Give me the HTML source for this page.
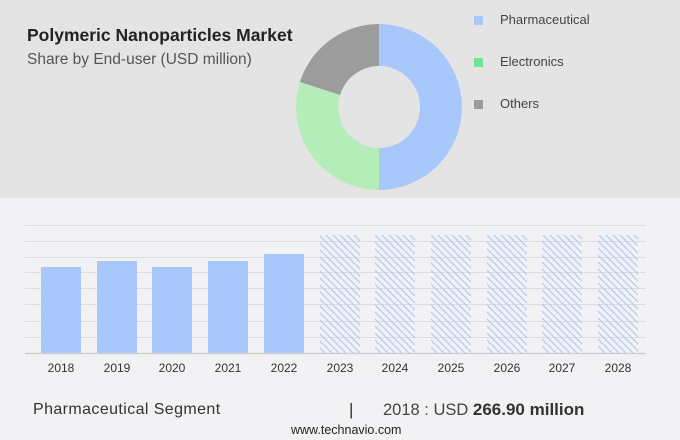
<!DOCTYPE html>
<html><head><style>
body{margin:0;width:680px;height:440px;background:#f2f2f4;font-family:"Liberation Sans",sans-serif;overflow:hidden;position:relative}
.t{position:absolute;white-space:nowrap}
</style></head><body>
<div style="position:absolute;left:0;top:0;width:680px;height:198px;background:#e4e4e4"></div>
<div class="t" style="left:27px;top:25px;font-size:17.5px;font-weight:bold;color:#222">Polymeric Nanoparticles Market</div>
<div class="t" style="left:27px;top:51px;font-size:15.5px;color:#555">Share by End-user (USD million)</div>
<svg width="680" height="440" style="position:absolute;left:0;top:0">
<defs><pattern id="h" width="7" height="7" patternUnits="userSpaceOnUse"><path d="M0 0L7 7M-3.5 3.5L3.5 10.5M3.5 -3.5L10.5 3.5" stroke="#a8c6f6" stroke-width="1.1"/></pattern></defs>
<path d="M379 24 A83 83 0 0 1 379 190 L379 148 A41 41 0 0 0 379 66Z" fill="#a8c8fc"/>
<path d="M379 190 A83 83 0 0 1 300 82 L340 95 A41 41 0 0 0 379 148Z" fill="#b5edb8"/>
<path d="M300 82 A83 83 0 0 1 379 24 L379 66 A41 41 0 0 0 340 95Z" fill="#9c9c9c"/>
<rect x="474" y="16" width="9" height="9" fill="#a8c8fc"/>
<rect x="474" y="58" width="9" height="9" fill="#6ee495"/>
<rect x="474" y="100" width="9" height="9" fill="#9c9c9c"/>
<g stroke="#dcdcdf" stroke-width="1">
<line x1="25" x2="646" y1="225.5" y2="225.5"/><line x1="25" x2="646" y1="241.5" y2="241.5"/><line x1="25" x2="646" y1="257.5" y2="257.5"/><line x1="25" x2="646" y1="272.5" y2="272.5"/><line x1="25" x2="646" y1="288.5" y2="288.5"/><line x1="25" x2="646" y1="304.5" y2="304.5"/><line x1="25" x2="646" y1="321.5" y2="321.5"/><line x1="25" x2="646" y1="337.5" y2="337.5"/>
</g>
<g fill="#a8c8fc">
<rect x="41" y="267" width="40" height="86"/><rect x="97" y="261" width="40" height="92"/><rect x="152" y="267" width="40" height="86"/><rect x="208" y="261" width="40" height="92"/><rect x="264" y="254" width="40" height="99"/>
</g>
<g fill="url(#h)">
<rect x="320" y="235" width="40" height="118"/><rect x="375" y="235" width="40" height="118"/><rect x="431" y="235" width="40" height="118"/><rect x="487" y="235" width="40" height="118"/><rect x="542" y="235" width="40" height="118"/><rect x="598" y="235" width="40" height="118"/>
</g>
<line x1="25" x2="646" y1="353.5" y2="353.5" stroke="#cfcfd3" stroke-width="1.5"/>
<g font-size="12" fill="#333" text-anchor="middle" font-family="Liberation Sans">
<text x="61" y="372">2018</text><text x="117" y="372">2019</text><text x="172" y="372">2020</text><text x="228" y="372">2021</text><text x="284" y="372">2022</text><text x="340" y="372">2023</text><text x="395" y="372">2024</text><text x="451" y="372">2025</text><text x="507" y="372">2026</text><text x="562" y="372">2027</text><text x="618" y="372">2028</text>
</g>
</svg>
<div class="t" style="left:500px;top:12px;font-size:13px;color:#444">Pharmaceutical</div>
<div class="t" style="left:500px;top:54px;font-size:13px;color:#444">Electronics</div>
<div class="t" style="left:500px;top:96px;font-size:13px;color:#444">Others</div>
<div class="t" style="left:33px;top:401px;font-size:16px;letter-spacing:0.4px;color:#333">Pharmaceutical Segment</div>
<div class="t" style="left:349px;top:400px;font-size:17px;color:#333">|</div>
<div class="t" style="left:383px;top:400px;font-size:16.5px;color:#444">2018 : USD <b style="color:#333;font-size:17px">266.90 million</b></div>
<div class="t" style="left:291px;top:423px;font-size:12.5px;color:#222">www.technavio.com</div>
</body></html>
